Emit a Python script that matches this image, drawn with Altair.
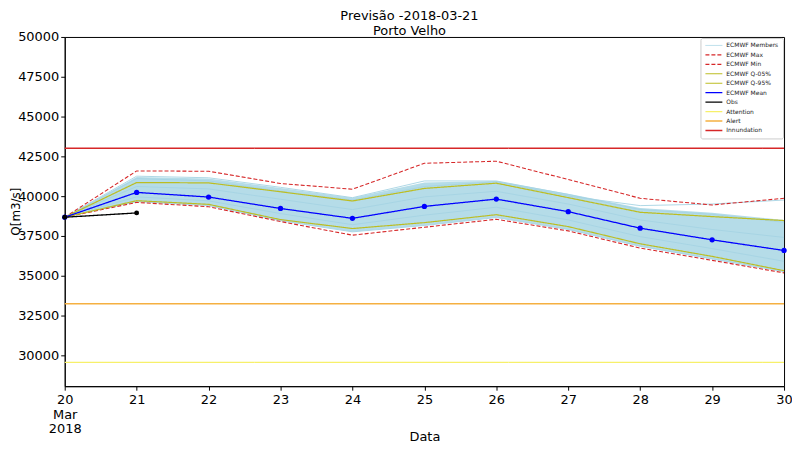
import altair as alt
import pandas as pd

FONT = "DejaVu Sans"

days = [20, 21, 22, 23, 24, 25, 26, 27, 28, 29, 30]
day_tick_labels = ["20", "21", "22", "23", "24", "25", "26", "27", "28", "29", "30"]
first_tick_extra = ["Mar", "2018"]
y_ticks = [30000, 32500, 35000, 37500, 40000, 42500, 45000, 47500, 50000]

ens_max = [38670, 41580, 41560, 40790, 40430, 42060, 42190, 41040, 39860, 39440, 39860]
ens_min = [38670, 39600, 39330, 38400, 37540, 38040, 38540, 37810, 36730, 35960, 35170]
q05 = [38670, 39710, 39480, 38520, 37960, 38330, 38830, 38080, 37000, 36210, 35310]
q95 = [38670, 40850, 40830, 40270, 39690, 40480, 40810, 39900, 38980, 38710, 38460]
ens_mean = [38670, 40230, 39940, 39220, 38600, 39350, 39810, 39020, 37980, 37250, 36580]

obs_days = [20, 21]
obs = [38670, 38940]

attention = 29550
alert = 33230
inundation = 43000

# members envelope (band) and a few individual members
members_hi = [38670, 41200, 41100, 40500, 39900, 40850, 40950, 40150, 39250, 38950, 38500]
members_lo = [38670, 39650, 39400, 38450, 37750, 38150, 38650, 37880, 36820, 36030, 35230]
member_a = [38670, 41100, 40950, 40300, 39750, 40600, 40900, 40000, 39400, 39500, 39750]
member_b = [38670, 41250, 41150, 40550, 39900, 40950, 40950, 40100, 39150, 38850, 38350]
member_c = [38670, 39650, 39400, 38450, 37750, 38150, 38650, 37900, 36850, 36050, 35250]
member_d = [38670, 40600, 40450, 39800, 39150, 39950, 40300, 39500, 38500, 37900, 37400]
member_e = [38670, 39950, 39700, 38900, 38200, 38800, 39300, 38500, 37450, 36700, 35900]

series_names = ["ECMWF Members", "ECMWF Max", "ECMWF Min", "ECMWF Q-05%", "ECMWF Q-95%",
                "ECMWF Mean", "Obs", "Attention", "Alert", "Innundation"]
series_colors = ["#add8e6", "#d62728", "#d62728", "#bcbd22", "#bcbd22",
                 "#0000ff", "#000000", "#f7f06a", "#f5b041", "#d62728"]
series_dash = [[1, 0], [4, 2], [4, 2], [1, 0], [1, 0], [1, 0], [1, 0], [1, 0], [1, 0], [1, 0]]
series_width = [1, 1.5, 1.5, 1.5, 1.5, 2, 1.5, 1.5, 1.5, 1.5]

# ---- tables built from the arrays
band = pd.DataFrame({"day": days, "lo": members_lo, "hi": members_hi})

mem_rows = []
for name, vals in [("a", member_a), ("b", member_b), ("c", member_c), ("d", member_d), ("e", member_e)]:
    for d, v in zip(days, vals):
        mem_rows.append({"day": d, "value": v, "member": name})
members = pd.DataFrame(mem_rows)

rows = []
def add(name, xs, ys):
    for d, v in zip(xs, ys):
        rows.append({"day": d, "value": v, "series": name})

add("ECMWF Max", days, ens_max)
add("ECMWF Min", days, ens_min)
add("ECMWF Q-05%", days, q05)
add("ECMWF Q-95%", days, q95)
add("ECMWF Mean", days, ens_mean)
add("Obs", obs_days, obs)
add("Attention", [days[0], days[-1]], [attention, attention])
add("Alert", [days[0], days[-1]], [alert, alert])
add("Innundation", [days[0], days[-1]], [inundation, inundation])
lines = pd.DataFrame(rows)

mean_pts = pd.DataFrame({"day": days, "value": ens_mean})
obs_pts = pd.DataFrame({"day": obs_days, "value": obs})

label_expr = "datum.value == %d ? [%s] : datum.label" % (
    days[0], ", ".join("'%s'" % s for s in [day_tick_labels[0]] + first_tick_extra))

x_enc = alt.X("day:Q",
              scale=alt.Scale(domain=[days[0], days[-1]], nice=False, zero=False),
              axis=alt.Axis(values=days, title="Data", labelExpr=label_expr, grid=False,
                            tickSize=4, labelPadding=3, labelFontSize=13, titleFontSize=13,
                            labelLineHeight=15, labelFlush=False,
                            titleY=58, titleBaseline="bottom",
                            domainColor="#000", tickColor="#000", labelColor="#000",
                            titleColor="#000", titleFontWeight="normal"))
y_scale = alt.Scale(domain=[28050, 50000], nice=False, zero=False)
y_enc = alt.Y("value:Q", scale=y_scale,
              axis=alt.Axis(values=y_ticks, format="d", title="Q[m3/s]", grid=False,
                            tickSize=4, labelPadding=2, labelFontSize=13, titleFontSize=12,
                            titleX=-45.5, titleY=175, titleAngle=270, titleAlign="center",
                            titleBaseline="alphabetic",
                            domainColor="#000", tickColor="#000",
                            labelColor="#000", titleColor="#000", titleFontWeight="normal"))

band_layer = alt.Chart(band).mark_area(color="#add8e6", opacity=0.9).encode(
    x=x_enc, y=alt.Y("lo:Q", scale=y_scale), y2="hi:Q")

member_layer = alt.Chart(members).mark_line(strokeWidth=1, opacity=0.9).encode(
    x=x_enc, y=y_enc, detail="member:N", color=alt.value("#a6d3e3"))

legend = alt.Legend(title=None, orient="top-right", offset=1)
line_layer = alt.Chart(lines).mark_line().encode(
    x=x_enc, y=y_enc,
    color=alt.Color("series:N", scale=alt.Scale(domain=series_names, range=series_colors),
                    legend=legend),
    strokeDash=alt.StrokeDash("series:N", scale=alt.Scale(domain=series_names, range=series_dash),
                              legend=legend),
    strokeWidth=alt.StrokeWidth("series:N",
                                scale=alt.Scale(domain=series_names, range=series_width),
                                legend=None),
)

mean_layer = alt.Chart(mean_pts).mark_point(filled=True, size=28, opacity=1, color="#0000ff").encode(
    x=x_enc, y=y_enc)
obs_layer = alt.Chart(obs_pts).mark_point(filled=True, size=24, opacity=1, color="#000000").encode(
    x=x_enc, y=y_enc)

chart = alt.layer(band_layer, member_layer, line_layer, mean_layer, obs_layer).properties(
    width=723, height=351,
    title=alt.TitleParams(["Previsão -2018-03-21", "Porto Velho"], anchor="middle",
                          fontSize=13, fontWeight="normal", color="#000", font=FONT,
                          offset=0, dy=7, dx=-15, lineHeight=15),
    autosize=alt.AutoSizeParams(type="none"),
    padding={"left": 57, "top": 28, "right": 8, "bottom": 59},
).configure(font=FONT).configure_view(
    stroke="#000", strokeWidth=1
).configure_legend(
    labelFontSize=6, labelFont=FONT, labelColor="#222", symbolType="stroke",
    symbolSize=289, symbolStrokeWidth=1.5, rowPadding=2.5, padding=4, clipHeight=7,
    strokeColor="#cccccc", fillColor="#ffffff", cornerRadius=2, labelOffset=3,
)

chart.save("out.html", embed_options={"renderer": "svg", "actions": False})
